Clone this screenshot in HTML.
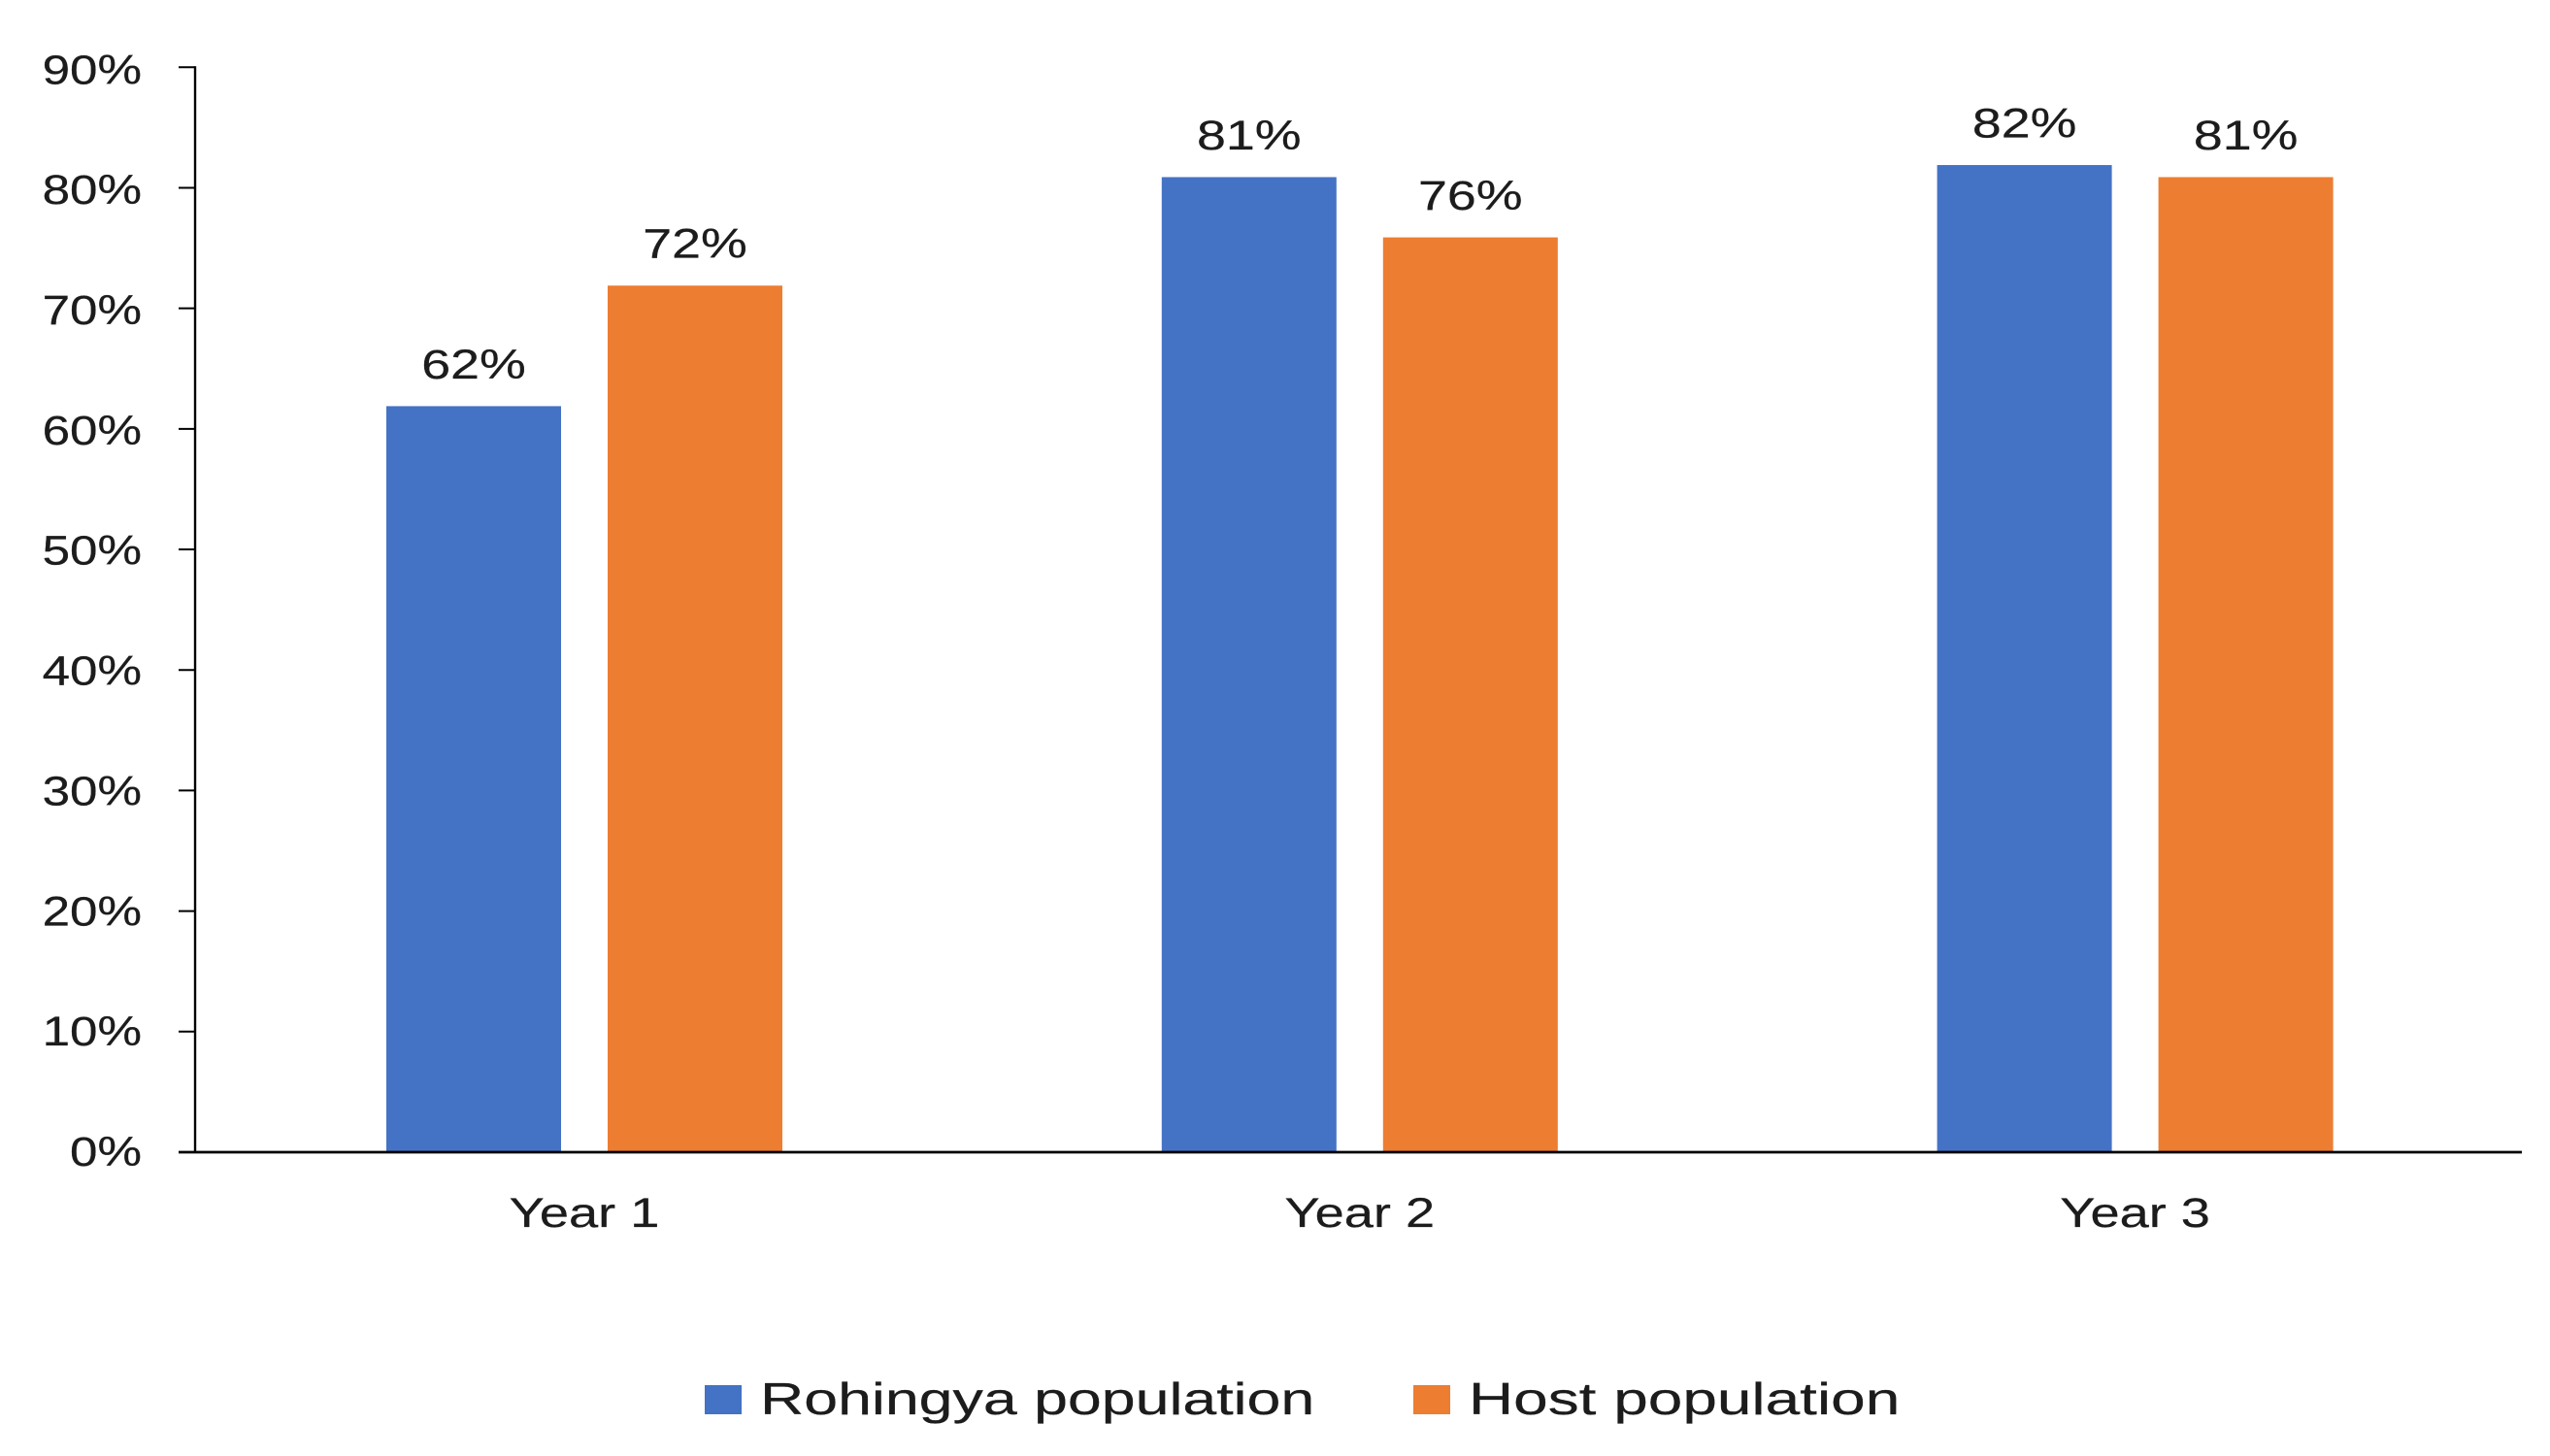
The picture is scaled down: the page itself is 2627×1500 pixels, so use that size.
<!DOCTYPE html>
<html>
<head>
<meta charset="utf-8">
<title>Rohingya and host population by year</title>
<style>
html,body{margin:0;padding:0;background:#fff;}
svg{display:block;}
text{font-family:"Liberation Sans",sans-serif;fill:#1c1c1c;}
</style>
</head>
<body>
<svg id="chart" xmlns="http://www.w3.org/2000/svg" width="2627" height="1500" viewBox="0 0 2627 1500"></svg>
<script>
const categories = ["Year 1", "Year 2", "Year 3"];
const seriesNames = ["Rohingya population", "Host population"];
const rohingyaValues = [62, 81, 82];
const hostValues = [72, 76, 81];
const yTickValues = [0, 10, 20, 30, 40, 50, 60, 70, 80, 90];

const svg = document.getElementById('chart');
const NS = 'http://www.w3.org/2000/svg';
const seriesColors = ['#4472C4', '#ED7D31'];
const seriesValues = [rohingyaValues, hostValues];

function yScale(v) { return 1187 - (v / 90) * 1117.7; }
function barTop(v) { return yScale(v) + 1.4; }
function groupCenter(i) { return 602 + 798.8 * i; }
function barLeft(i, s) { return groupCenter(i) - 204 + s * 228; }
const barWidth = 180;

function make(tag, attrs, parent) {
  const el = document.createElementNS(NS, tag);
  for (const k in attrs) el.setAttribute(k, attrs[k]);
  (parent || svg).appendChild(el);
  return el;
}
function label(str, x, y, size, sx, anchor) {
  const el = make('text', {
    transform: 'translate(' + x + ' ' + y + ') scale(' + sx + ' 1)',
    'font-size': size,
    'text-anchor': anchor,
    stroke: '#1c1c1c',
    'stroke-width': 0.25
  });
  el.textContent = str;
  return el;
}

// y axis ticks and labels
yTickValues.forEach(function (v) {
  const y = yScale(v);
  const tick = make('line', { x1: 184, x2: 201, y1: y, y2: y, stroke: '#000', 'stroke-width': 2 });
  
  
  const t = label(v + '%', 146, y + 14 + 3 * v / 90, 43, 1.19, 'end');
  
  
});

// bars and value labels
categories.forEach(function (cat, i) {
  seriesValues.forEach(function (vals, s) {
    const v = vals[i];
    const top = barTop(v);
    const x = barLeft(i, s);
    const bar = make('rect', { x: x, y: top, width: barWidth, height: yScale(0) - top, fill: seriesColors[s] });
    
    
    const t = label(v + '%', x + barWidth / 2, top - 28.5, 43, 1.25, 'middle');
    
    
  });
  const c = label(cat, groupCenter(i), 1264, 43, 1.26, 'middle');
  
  
});

// axes
const yAxis = make('line', { x1: 201, x2: 201, y1: yScale(90) - 1, y2: yScale(0), stroke: '#000', 'stroke-width': 2.4 });


const xAxis = make('line', { x1: 184, x2: 2598, y1: yScale(0), y2: yScale(0), stroke: '#000', 'stroke-width': 2.8 });



// legend
const legendSwatchX = [726, 1456];
const legendTextX = [783, 1513];
const legendStretch = [1.362, 1.39];
seriesNames.forEach(function (name, s) {
  const sw = make('rect', { x: legendSwatchX[s], y: 1427, width: 38, height: 30, fill: seriesColors[s] });
  
  
  const t = label(name, legendTextX[s], 1457, 46, legendStretch[s], 'start');
  
  
});
</script>
</body>
</html>
